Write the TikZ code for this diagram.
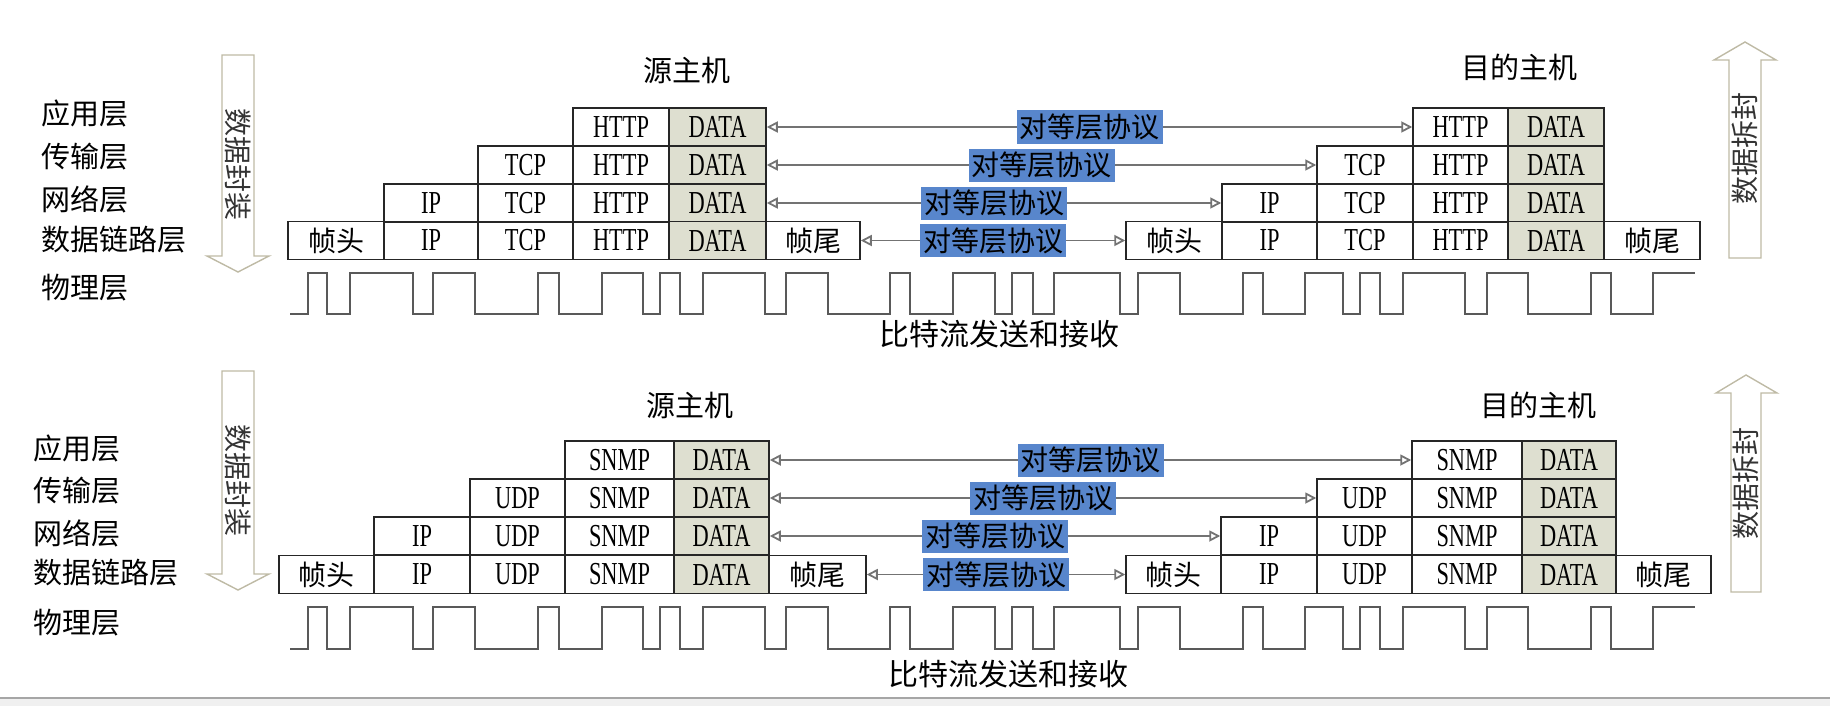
\documentclass[tikz,border=0pt]{standalone}
\usepackage{fontspec}
\setmainfont{Liberation Serif}
\newfontfamily\cjk{Noto Sans CJK SC}
\newfontfamily\boxfont{Liberation Serif}[FakeStretch=0.7]
\usetikzlibrary{arrows.meta}
\definecolor{datagray}{RGB}{222,223,208}
\definecolor{peerblue}{RGB}{88,134,204}
\definecolor{arrowrim}{RGB}{190,186,165}

\begin{document}
\begin{tikzpicture}[x=1pt, y=-1pt,
    cell/.style={draw=black!85, line width=1.5pt, inner sep=0pt, minimum height=38pt, font=\boxfont\fontsize{32}{34}\selectfont},
    data/.style={cell, fill=datagray},
    frame/.style={cell, font=\cjk\fontsize{28}{30}\selectfont},
    layer/.style={anchor=west, inner sep=0pt, font=\cjk\fontsize{29}{31}\selectfont},
    host/.style={font=\cjk\fontsize{29}{31}\selectfont},
    bits/.style={font=\cjk\fontsize{30}{32}\selectfont},
    peer/.style={draw=black!55, line width=1.8pt, {Triangle[open,length=11pt,width=11pt]}-{Triangle[open,length=11pt,width=11pt]}},
    tag/.style={fill=peerblue, inner xsep=3pt, inner ysep=0pt, minimum height=33pt, font=\cjk\fontsize{28}{30}\selectfont},
    wave/.style={draw=black!65, line width=1.8pt},
    bigarrow/.style={draw=arrowrim, line width=1.4pt},
    arrowtext/.style={text=black!80, font=\cjk\fontsize{28}{30}\selectfont}]
    \useasboundingbox (0,0) rectangle (1830,706);

    \node[layer] (app1) at (41,113) {应用层};
    \node[layer] (trans1) at (41,157) {传输层};
    \node[layer] (net1) at (41,199) {网络层};
    \node[layer] (link1) at (41,240) {数据链路层};
    \node[layer] (phys1) at (41,288) {物理层};
    \node[layer] (app2) at (33,448) {应用层};
    \node[layer] (trans2) at (33,491) {传输层};
    \node[layer] (net2) at (33,533) {网络层};
    \node[layer] (link2) at (33,573) {数据链路层};
    \node[layer] (phys2) at (33,623) {物理层};

    \draw[bigarrow] (222,55) -- (254,55) -- (254,256) -- (269,256) -- (238,272) -- (207,256) -- (222,256) -- cycle;
    \draw[bigarrow] (1729,258) -- (1761,258) -- (1761,60) -- (1776,60) -- (1745,42) -- (1714,60) -- (1729,60) -- cycle;
    \draw[bigarrow] (222,371) -- (254,371) -- (254,574) -- (269,574) -- (238,590) -- (207,574) -- (222,574) -- cycle;
    \draw[bigarrow] (1731,592) -- (1761,592) -- (1761,393) -- (1777,393) -- (1746,375) -- (1716,393) -- (1731,393) -- cycle;
    \node[arrowtext, rotate=-90] (enc1) at (238,165) {数据封装};
    \node[arrowtext, rotate=90] (dec1) at (1745,148) {数据拆封};
    \node[arrowtext, rotate=-90] (enc2) at (238,480) {数据封装};
    \node[arrowtext, rotate=90] (dec2) at (1746,483) {数据拆封};

    \node[host] (src1) at (687,70) {源主机};
    \node[host] (dst1) at (1519,67) {目的主机};
    \node[host] (src2) at (690,405) {源主机};
    \node[host] (dst2) at (1538,405) {目的主机};

    \foreach \r/\y/\first/\last in {1/127/4/5, 2/165/3/5, 3/203/2/5, 4/240.5/1/6} {
        \foreach \col/\lbl/\lft/\cw/\st in {1/帧头/288/96/frame, 2/IP/384/94/cell, 3/TCP/478/95/cell, 4/HTTP/573/96/cell, 5/DATA/669/97/data, 6/帧尾/766/94/frame} {
            \ifnum\col<\first\else\ifnum\col>\last\else
                \node[\st, minimum width=\cw] (s\r-\col) at (\lft+\cw/2,\y) {\lbl};
            \fi\fi
        }
        \foreach \col/\lbl/\lft/\cw/\st in {1/帧头/1126/96/frame, 2/IP/1222/95/cell, 3/TCP/1317/96/cell, 4/HTTP/1413/95/cell, 5/DATA/1508/96/data, 6/帧尾/1604/96/frame} {
            \ifnum\col<\first\else\ifnum\col>\last\else
                \node[\st, minimum width=\cw] (d\r-\col) at (\lft+\cw/2,\y) {\lbl};
            \fi\fi
        }
    }
    \foreach \r/\y/\first/\last in {1/460/4/5, 2/498/3/5, 3/536/2/5, 4/574.5/1/6} {
        \foreach \col/\lbl/\lft/\cw/\st in {1/帧头/279/95/frame, 2/IP/374/96/cell, 3/UDP/470/95/cell, 4/SNMP/565/109/cell, 5/DATA/674/95/data, 6/帧尾/769/97/frame} {
            \ifnum\col<\first\else\ifnum\col>\last\else
                \node[\st, minimum width=\cw] (S\r-\col) at (\lft+\cw/2,\y) {\lbl};
            \fi\fi
        }
        \foreach \col/\lbl/\lft/\cw/\st in {1/帧头/1126/95/frame, 2/IP/1221/96/cell, 3/UDP/1317/95/cell, 4/SNMP/1412/110/cell, 5/DATA/1522/94/data, 6/帧尾/1616/95/frame} {
            \ifnum\col<\first\else\ifnum\col>\last\else
                \node[\st, minimum width=\cw] (D\r-\col) at (\lft+\cw/2,\y) {\lbl};
            \fi\fi
        }
    }

    \draw[peer] (s1-5.east) -- (d1-4.west) node[midway, tag] (p1) {对等层协议};
    \draw[peer] (s2-5.east) -- (d2-3.west) node[midway, tag] (p2) {对等层协议};
    \draw[peer] (s3-5.east) -- (d3-2.west) node[midway, tag] (p3) {对等层协议};
    \draw[peer] (s4-6.east) -- (d4-1.west) node[midway, tag] (p4) {对等层协议};
    \draw[peer] (S1-5.east) -- (D1-4.west) node[midway, tag] (P1) {对等层协议};
    \draw[peer] (S2-5.east) -- (D2-3.west) node[midway, tag] (P2) {对等层协议};
    \draw[peer] (S3-5.east) -- (D3-2.west) node[midway, tag] (P3) {对等层协议};
    \draw[peer] (S4-6.east) -- (D4-1.west) node[midway, tag] (P4) {对等层协议};

    \foreach \H/\L in {273/314, 607/649}
        \draw[wave] (290,\L) -| (308,\H) -| (327,\L) -| (350,\H) -| (413,\L) -| (433,\H) -| (475,\L) -| (538,\H) -| (559,\L) -| (602,\H) -| (643,\L) -| (660,\H) -| (680,\L) -| (703,\H) -| (765,\L) -| (786,\H) -| (828,\L) -| (890,\H) -| (910,\L) -| (953,\H) -| (995,\L) -| (1012,\H) -| (1033,\L) -| (1054,\H) -| (1120,\L) -| (1138,\H) -| (1180,\L) -| (1243,\H) -| (1263,\L) -| (1305,\H) -| (1343,\L) -| (1360,\H) -| (1380,\L) -| (1403,\H) -| (1465,\L) -| (1487,\H) -| (1528,\L) -| (1591,\H) -| (1611,\L) -| (1653,\H) -- (1695,\H);
    \node[bits] (bits1) at (999,334) {比特流发送和接收};
    \node[bits] (bits2) at (1008,674) {比特流发送和接收};

    \fill[black!6] (0,699) rectangle (1830,706);
    \draw[black!35, line width=2pt] (0,698) -- (1830,698);
\end{tikzpicture}
\end{document}
